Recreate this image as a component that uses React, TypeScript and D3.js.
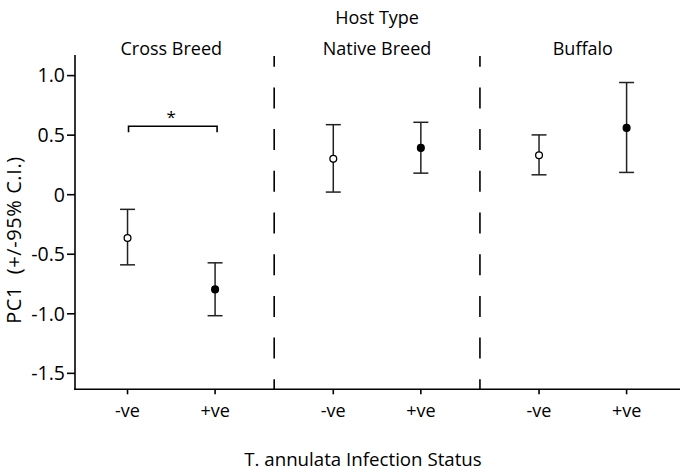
import React from "react";
import * as d3 from "d3";

// ---- data ----
const groups = ["Cross Breed", "Native Breed", "Buffalo"];
const statuses = ["-ve", "+ve"];
const negMean = [-0.363, 0.301, 0.331];
const negLower = [-0.589, 0.022, 0.167];
const negUpper = [-0.123, 0.588, 0.502];
const posMean = [-0.795, 0.393, 0.561];
const posLower = [-1.016, 0.181, 0.187];
const posUpper = [-0.572, 0.608, 0.942];
const yTicks = [1.0, 0.5, 0, -0.5, -1.0, -1.5];
const yTickLabels = ["1.0", "0.5", "0", "-0.5", "-1.0", "-1.5"];
const sigGroup = 0;
const sigLevel = 0.575;
const sigMark = "*";

const W = 686;
const H = 475;
const GROUP_STEP = 2.35;
const FONT = "'Open Sans', 'Noto Sans', sans-serif";

export default function App() {
  const x = d3.scaleLinear().domain([-0.6, 2 * GROUP_STEP + 1 + 0.61]).range([75, 680]);
  const y = d3.scaleLinear().domain([-1.634, 1.173]).range([389.3, 55]);
  const pos = (g: number, s: number) => x(g * GROUP_STEP + s);
  const groupCenter = (g: number) => x(g * GROUP_STEP + 0.5);
  const dividers = [0, 1].map((g) => x(g * GROUP_STEP + 1 + (GROUP_STEP - 1) / 2));

  const points = groups.flatMap((_, g) => [
    { g, s: 0, m: negMean[g], lo: negLower[g], hi: negUpper[g] },
    { g, s: 1, m: posMean[g], lo: posLower[g], hi: posUpper[g] },
  ]);

  const [y0, y1] = y.range();
  const capHalf = 7.5;
  const stroke = "#222";

  return (
    <svg width={W} height={H} style={{ display: "block", position: "absolute", left: 0, top: 0 }} fontFamily={FONT}>
      <rect width={W} height={H} fill="#fff" />
      {/* y axis */}
      <line x1={x.range()[0]} x2={x.range()[0]} y1={y1} y2={y0 + 0.75} stroke="#000" strokeWidth={1.6} />
      {yTicks.map((t, i) => (
        <g key={i}>
          <line x1={x.range()[0] - 8} x2={x.range()[0]} y1={y(t)} y2={y(t)} stroke="#000" strokeWidth={1.6} />
          <text x={x.range()[0] - 10} y={y(t)} dy="0.35em" textAnchor="end" fontSize={19.5}>
            {yTickLabels[i]}
          </text>
        </g>
      ))}
      {/* x axis */}
      <line x1={x.range()[0] - 1} x2={x.range()[1]} y1={y0} y2={y0} stroke="#000" strokeWidth={1.6} />
      {points.map((p, i) => (
        <g key={"xt" + i}>
          <line x1={pos(p.g, p.s)} x2={pos(p.g, p.s)} y1={y0} y2={y0 + 5} stroke="#000" strokeWidth={1.6} />
          <text x={pos(p.g, p.s)} y={417} textAnchor="middle" fontSize={18}>
            {statuses[p.s]}
          </text>
        </g>
      ))}
      {/* dividers */}
      {dividers.map((dx, i) => (
        <line key={"d" + i} x1={dx} x2={dx} y1={56} y2={y0} stroke="#000" strokeWidth={1.6}
          strokeDasharray="21 20.7" strokeDashoffset={10.3} />
      ))}
      {/* error bars */}
      {points.map((p, i) => {
        const cx = pos(p.g, p.s);
        return (
          <g key={"e" + i}>
            <line x1={cx} x2={cx} y1={y(p.hi)} y2={y(p.lo)} stroke={stroke} strokeWidth={1.5} />
            <line x1={cx - capHalf} x2={cx + capHalf} y1={y(p.hi)} y2={y(p.hi)} stroke={stroke} strokeWidth={1.5} />
            <line x1={cx - capHalf} x2={cx + capHalf} y1={y(p.lo)} y2={y(p.lo)} stroke={stroke} strokeWidth={1.5} />
            <circle cx={cx} cy={y(p.m)} r={3.4} fill={p.s === 0 ? "#fff" : "#000"} stroke="#000" strokeWidth={1.3} />
          </g>
        );
      })}
      {/* significance bracket */}
      <path
        d={`M${pos(sigGroup, 0) + 1},${y(sigLevel) + 6} V${y(sigLevel)} H${pos(sigGroup, 1) + 2} V${y(sigLevel) + 6}`}
        fill="none" stroke="#000" strokeWidth={1.6} />
      <text x={groupCenter(sigGroup)} y={y(sigLevel) - 3} textAnchor="middle" fontSize={17}>
        {sigMark}
      </text>
      {/* group labels */}
      {groups.map((g, i) => (
        <text key={"g" + i} x={groupCenter(i)} y={55} textAnchor="middle" fontSize={18}>
          {g}
        </text>
      ))}
      <text x={groupCenter(1)} y={24} textAnchor="middle" fontSize={18}>Host Type</text>
      {/* axis titles */}
      <text x={363} y={466} textAnchor="middle" fontSize={18.7}>T. annulata Infection Status</text>
      <text transform={`translate(21,${240}) rotate(-90)`} textAnchor="middle" fontSize={20}
        xmlSpace="preserve" letterSpacing={0.6}>
        PC1  (+/-95% C.I.)
      </text>
    </svg>
  );
}
